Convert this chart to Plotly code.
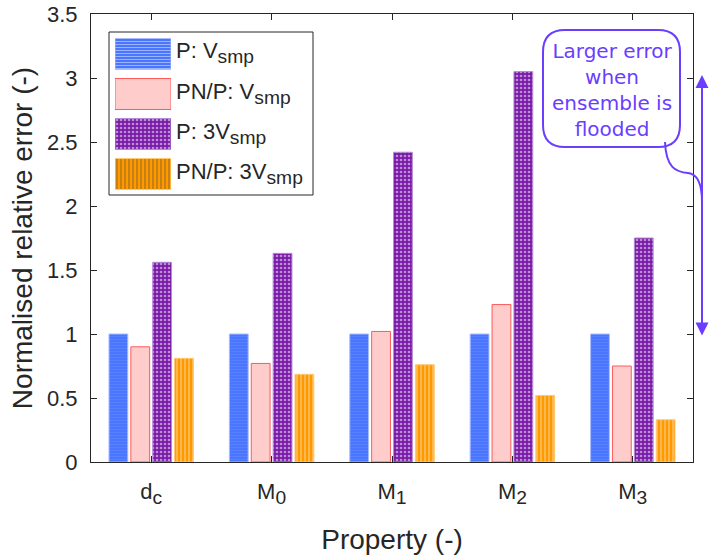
import plotly.graph_objects as go

SUB = "<sub><span style='font-size:125%'>{}</span></sub>"
categories = ["d" + SUB.format("c"), "M" + SUB.format("0"), "M" + SUB.format("1"),
              "M" + SUB.format("2"), "M" + SUB.format("3")]
cat_pos = [1, 2, 3, 4, 5]
series_names = ["P: V" + SUB.format("smp"), "PN/P: V" + SUB.format("smp"),
                "P: 3V" + SUB.format("smp"), "PN/P: 3V" + SUB.format("smp")]
p_v = [1.0, 1.0, 1.0, 1.0, 1.0]
pnp_v = [0.90, 0.77, 1.02, 1.23, 0.75]
p_3v = [1.56, 1.63, 2.42, 3.05, 1.75]
pnp_3v = [0.81, 0.685, 0.76, 0.52, 0.33]
y_ticks = [0, 0.5, 1, 1.5, 2, 2.5, 3, 3.5]
note_text = "Larger error<br>when<br>ensemble is<br>flooded"

fills = ["#4a76ff", "#ffcccc", "#7a1aa8", "#ff9900"]
edges = ["#a9bdff", "#ff5a5a", "#b58ad4", "#ffc870"]
pat_shape = ["-", "", ".", "|"]
pat_fg = ["#6a8cff", "#ffcccc", "#ffffff", "#ffffff"]
pat_size = [3, 8, 4, 4]
pat_sol = [0.3, 0.2, 0.35, 0.3]
INK = "#262626"
NOTE = "#6a3dff"

# pixel -> paper helpers (plot area: x 91..693, y 14..462)
X0, X1, YB, YT = 91, 693, 462, 14
def px(x):
    return (x - X0) / (X1 - X0)
def py(y):
    return (YB - y) / (YB - YT)

fig = go.Figure()
for i, vals in enumerate([p_v, pnp_v, p_3v, pnp_3v]):
    fig.add_trace(go.Bar(
        x=cat_pos, y=vals, name=series_names[i], showlegend=False,
        marker=dict(color=fills[i], line=dict(color=edges[i], width=1),
                    pattern=dict(shape=pat_shape[i], fgcolor=pat_fg[i],
                                 size=pat_size[i], solidity=pat_sol[i])),
    ))

# legend swatches drawn as bars on a small auxiliary axis
fig.add_trace(go.Bar(
    x=[1, 1, 1, 1], y=[0, 1, 2, 3], orientation="h", width=0.775,
    xaxis="x2", yaxis="y2", showlegend=False, hoverinfo="skip",
    marker=dict(color=fills, line=dict(color=edges, width=1),
                pattern=dict(shape=pat_shape, fgcolor=pat_fg,
                             size=pat_size, solidity=pat_sol)),
))

font = dict(family="Liberation Sans, Arial, sans-serif", color=INK)

fig.update_layout(
    width=710, height=559,
    margin=dict(l=X0, r=710 - X1, t=YT, b=559 - YB, autoexpand=False),
    plot_bgcolor="white", paper_bgcolor="white",
    barmode="group", bargap=0.273, bargroupgap=0.14,
    font=dict(**font, size=22),
    showlegend=False,
    xaxis=dict(range=[0.5, 5.5], tickmode="array", tickvals=cat_pos, ticktext=categories,
               ticks="inside", ticklen=6, tickcolor=INK, showline=True, linecolor=INK,
               linewidth=1, mirror="ticks", showgrid=False, zeroline=False,
               automargin=False,
               tickfont=dict(size=22), ticklabelstandoff=10,
               title=dict(text="Property (-)", font=dict(size=28), standoff=22)),
    yaxis=dict(range=[0, 3.5], tickmode="array", tickvals=y_ticks,
               ticktext=[f"{v:g}" for v in y_ticks],
               ticks="inside", ticklen=6, tickcolor=INK, showline=True, linecolor=INK,
               linewidth=1, mirror="ticks", showgrid=False, zeroline=False,
               automargin=False,
               tickfont=dict(size=22), ticklabelstandoff=8,
               title=dict(text="Normalised relative error (-)", font=dict(size=28), standoff=6)),
    xaxis2=dict(domain=[px(115), px(171)], range=[0, 1], visible=False, anchor="y2",
                fixedrange=True, automargin=False),
    yaxis2=dict(domain=[py(194), py(34)], range=[3.5, -0.5], visible=False, anchor="x2",
                fixedrange=True, automargin=False),
)

shapes = []
# legend box
shapes.append(dict(type="rect", xref="paper", yref="paper",
                   x0=px(109), x1=px(313), y0=py(195), y1=py(32),
                   line=dict(color=INK, width=1), fillcolor="white", layer="below"))

# rounded note box
bx0, bx1, by0, by1, r = 543, 680, 30, 147, 22
def P(x, y):
    return f"{px(x):.5f},{py(y):.5f}"
path = (f"M {P(bx0 + r, by0)} L {P(bx1 - r, by0)} Q {P(bx1, by0)} {P(bx1, by0 + r)} "
        f"L {P(bx1, by1 - r)} Q {P(bx1, by1)} {P(bx1 - r, by1)} "
        f"L {P(bx0 + r, by1)} Q {P(bx0, by1)} {P(bx0, by1 - r)} "
        f"L {P(bx0, by0 + r)} Q {P(bx0, by0)} {P(bx0 + r, by0)} Z")
shapes.append(dict(type="path", xref="paper", yref="paper", path=path,
                   line=dict(color=NOTE, width=2), fillcolor="rgba(255,255,255,0)"))
# connector curve
cpath = (f"M {P(665, 142)} C {P(666, 168)} {P(676, 172)} {P(688, 173)} "
         f"C {P(698, 174)} {P(702, 186)} {P(702, 202)}")
shapes.append(dict(type="path", xref="paper", yref="paper", path=cpath,
                   line=dict(color=NOTE, width=2)))
fig.update_layout(shapes=shapes)

annotations = []
row_y = [54, 94, 134, 174]
for name, yy in zip(series_names, row_y):
    annotations.append(dict(xref="paper", yref="paper", x=px(174), y=py(yy - 1),
                            xanchor="left", yanchor="middle", showarrow=False,
                            text=name, font=dict(**font, size=22)))
annotations.append(dict(xref="paper", yref="paper", x=px(611.5), y=py(90),
                        xanchor="center", yanchor="middle", showarrow=False,
                        text=note_text, align="center",
                        font=dict(family="DejaVu Sans", size=20, color=NOTE)))
# double-headed arrow
annotations.append(dict(xref="paper", yref="paper", x=px(702), y=py(75),
                        ax=0, ay=337 - 75, axref="pixel", ayref="pixel",
                        text="", showarrow=True, arrowhead=2, startarrowhead=2,
                        arrowside="end+start", arrowsize=1.3, startarrowsize=1.3,
                        arrowwidth=2, arrowcolor=NOTE))
fig.update_layout(annotations=annotations)

fig.write_html("out.html")
